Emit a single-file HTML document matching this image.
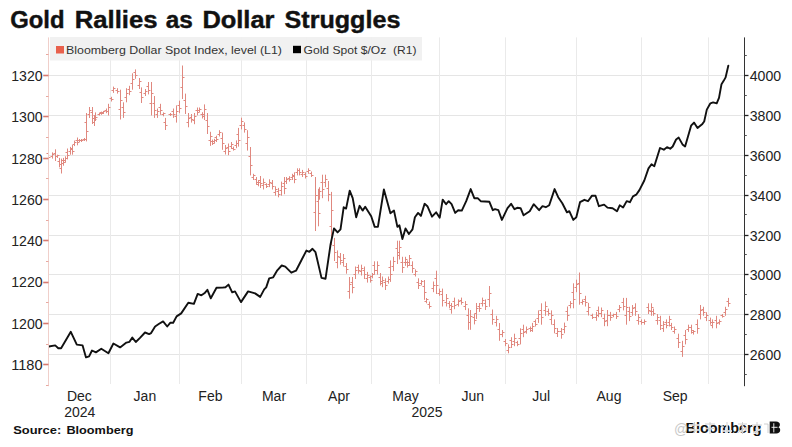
<!DOCTYPE html>
<html><head><meta charset="utf-8"><style>
html,body{margin:0;padding:0;background:#fff;}
svg{display:block;}
text{font-family:"Liberation Sans",sans-serif;}
.ax{font-size:15px;fill:#222;}
.mo{font-size:14px;fill:#222;}
.lg{font-size:11.5px;fill:#333;}
.title{font-size:23px;font-weight:bold;fill:#111;stroke:#111;stroke-width:0.4px;}
.src{font-size:11.5px;font-weight:bold;fill:#111;}
.logo{font-size:15px;font-weight:bold;fill:#111;}
.wm{font-size:14px;fill:#c8c8c8;}
</style></head><body>
<svg width="792" height="447" viewBox="0 0 792 447">
<rect width="792" height="447" fill="#fff"/>
<line x1="48.5" y1="75.5" x2="744.5" y2="75.5" stroke="#e5e5e5" stroke-width="1"/>
<line x1="48.5" y1="115.5" x2="744.5" y2="115.5" stroke="#e5e5e5" stroke-width="1"/>
<line x1="48.5" y1="155.5" x2="744.5" y2="155.5" stroke="#e5e5e5" stroke-width="1"/>
<line x1="48.5" y1="195.5" x2="744.5" y2="195.5" stroke="#e5e5e5" stroke-width="1"/>
<line x1="48.5" y1="235.5" x2="744.5" y2="235.5" stroke="#e5e5e5" stroke-width="1"/>
<line x1="48.5" y1="274.5" x2="744.5" y2="274.5" stroke="#e5e5e5" stroke-width="1"/>
<line x1="48.5" y1="314.5" x2="744.5" y2="314.5" stroke="#e5e5e5" stroke-width="1"/>
<line x1="48.5" y1="354.5" x2="744.5" y2="354.5" stroke="#e5e5e5" stroke-width="1"/>
<line x1="110.5" y1="37.4" x2="110.5" y2="384" stroke="#eaeaea" stroke-width="1"/>
<line x1="179.5" y1="37.4" x2="179.5" y2="384" stroke="#eaeaea" stroke-width="1"/>
<line x1="241.5" y1="37.4" x2="241.5" y2="384" stroke="#eaeaea" stroke-width="1"/>
<line x1="306.5" y1="37.4" x2="306.5" y2="384" stroke="#eaeaea" stroke-width="1"/>
<line x1="371.5" y1="37.4" x2="371.5" y2="384" stroke="#eaeaea" stroke-width="1"/>
<line x1="439.5" y1="37.4" x2="439.5" y2="384" stroke="#eaeaea" stroke-width="1"/>
<line x1="505.5" y1="37.4" x2="505.5" y2="384" stroke="#eaeaea" stroke-width="1"/>
<line x1="576.5" y1="37.4" x2="576.5" y2="384" stroke="#eaeaea" stroke-width="1"/>
<line x1="641.5" y1="37.4" x2="641.5" y2="384" stroke="#eaeaea" stroke-width="1"/>
<line x1="708.5" y1="37.4" x2="708.5" y2="384" stroke="#eaeaea" stroke-width="1"/>
<rect x="50" y="37" width="372" height="23.5" fill="#f0f0f0" fill-opacity="0.92"/>
<rect x="56" y="46" width="8" height="7.5" fill="#e8604c"/>
<rect x="293" y="45.8" width="8" height="7.4" fill="#000"/>
<path d="M48.5 148.5V162.6M46.5 153.5H48.5M48.5 157.5H50.5M52.5 152.4V158.6M50.5 156.5H52.5M52.5 154.5H54.5M55.5 149.3V161.0M53.5 153.5H55.5M55.5 156.5H57.5M57.5 154.7V157.9M55.5 156.5H57.5M57.5 155.5H59.5M59.5 157.9V167.3M57.5 161.5H59.5M59.5 164.5H61.5M61.5 158.6V173.5M59.5 168.5H61.5M61.5 163.5H63.5M63.5 157.9V165.7M61.5 160.5H63.5M63.5 162.5H65.5M65.5 156.3V162.6M63.5 160.5H65.5M65.5 158.5H67.5M67.5 148.5V159.4M65.5 152.5H67.5M67.5 155.5H69.5M70.5 146.9V154.7M68.5 151.5H70.5M70.5 149.5H72.5M72.5 145.0V154.7M70.5 148.5H72.5M72.5 151.5H74.5M74.5 140.6V146.1M72.5 144.5H74.5M74.5 142.5H76.5M77.5 137.5V145.3M75.5 140.5H77.5M77.5 142.5H79.5M79.5 139.0V142.0M77.5 140.5H79.5M79.5 140.5H81.5M81.5 139.0V142.0M79.5 140.5H81.5M81.5 140.5H83.5M84.5 138.0V141.0M82.5 139.5H84.5M84.5 139.5H86.5M86.5 113.0V141.4M84.5 122.5H86.5M86.5 131.5H88.5M89.5 107.0V118.0M87.5 114.5H89.5M89.5 110.5H91.5M92.5 107.0V124.0M90.5 112.5H92.5M92.5 118.5H94.5M94.5 116.0V126.0M92.5 122.5H94.5M94.5 119.5H96.5M95.5 112.4V121.0M93.5 115.5H95.5M95.5 117.5H97.5M99.5 113.0V115.5M97.5 114.5H99.5M99.5 113.5H101.5M101.5 111.6V114.8M99.5 112.5H101.5M101.5 113.5H103.5M103.5 110.9V114.0M101.5 112.5H103.5M103.5 111.5H105.5M106.5 108.5V113.2M104.5 110.5H106.5M106.5 111.5H108.5M108.5 103.8V115.5M106.5 111.5H108.5M108.5 107.5H110.5M111.5 96.8V101.5M109.5 98.5H111.5M111.5 99.5H113.5M113.5 86.6V92.9M111.5 90.5H113.5M113.5 88.5H115.5M117.5 88.2V93.6M115.5 90.5H117.5M117.5 91.5H119.5M120.5 89.7V119.5M118.5 109.5H120.5M120.5 100.5H122.5M123.5 102.3V117.9M121.5 107.5H123.5M123.5 112.5H125.5M126.5 88.2V102.3M124.5 97.5H126.5M126.5 93.5H128.5M129.5 85.8V95.2M127.5 89.5H129.5M129.5 91.5H131.5M132.5 73.3V89.7M130.5 83.5H132.5M132.5 79.5H134.5M135.5 69.4V78.8M133.5 72.5H135.5M135.5 75.5H137.5M139.5 78.0V89.0M137.5 85.5H139.5M139.5 81.5H141.5M141.5 87.4V103.0M139.5 92.5H141.5M141.5 97.5H143.5M145.5 89.0V96.0M143.5 93.5H145.5M145.5 91.5H147.5M148.5 82.0V94.4M146.5 86.5H148.5M148.5 90.5H150.5M151.5 82.0V115.5M149.5 103.5H151.5M151.5 93.5H153.5M154.5 96.0V117.9M152.5 103.5H154.5M154.5 110.5H156.5M157.5 108.5V117.9M155.5 114.5H157.5M157.5 111.5H159.5M160.5 103.8V114.8M158.5 107.5H160.5M160.5 110.5H162.5M163.5 112.4V116.3M161.5 114.5H163.5M163.5 113.5H165.5M165.5 117.9V130.0M163.5 122.5H165.5M165.5 125.5H167.5M170.5 113.0V116.0M168.5 114.5H170.5M170.5 114.5H172.5M173.5 108.5V117.9M171.5 111.5H173.5M173.5 114.5H175.5M176.5 105.4V122.6M174.5 116.5H176.5M176.5 111.5H178.5M179.5 100.7V113.2M177.5 105.5H179.5M179.5 108.5H181.5M182.5 65.5V99.0M180.5 87.5H182.5M182.5 77.5H184.5M185.5 93.6V114.0M183.5 100.5H185.5M185.5 106.5H187.5M188.5 113.0V127.3M186.5 122.5H188.5M188.5 118.5H190.5M191.5 114.0V122.6M189.5 117.5H191.5M191.5 119.5H193.5M194.5 113.0V124.2M192.5 120.5H194.5M194.5 116.5H196.5M197.5 107.5V115.3M195.5 110.5H197.5M197.5 112.5H199.5M199.5 107.5V112.2M197.5 110.5H199.5M199.5 109.5H201.5M202.5 112.2V118.5M200.5 114.5H202.5M202.5 116.5H204.5M204.5 104.4V120.0M202.5 114.5H204.5M204.5 109.5H206.5M207.5 113.0V134.0M205.5 120.5H207.5M207.5 126.5H209.5M210.5 131.8V145.9M208.5 140.5H210.5M210.5 136.5H212.5M212.5 139.6V145.0M210.5 141.5H212.5M212.5 143.5H214.5M214.5 138.8V143.5M212.5 141.5H214.5M214.5 140.5H216.5M216.5 135.7V142.0M214.5 137.5H216.5M216.5 139.5H218.5M219.5 130.2V136.5M217.5 134.5H219.5M219.5 132.5H221.5M222.5 132.6V149.8M220.5 138.5H222.5M222.5 143.5H224.5M225.5 145.0V154.5M223.5 151.5H225.5M225.5 148.5H227.5M228.5 143.5V155.2M226.5 147.5H228.5M228.5 151.5H230.5M231.5 142.0V149.0M229.5 146.5H231.5M231.5 144.5H233.5M233.5 146.6V150.6M231.5 148.5H233.5M233.5 149.5H235.5M236.5 140.4V148.2M234.5 145.5H236.5M236.5 143.5H238.5M238.5 127.9V146.6M236.5 134.5H238.5M238.5 140.5H240.5M241.5 117.7V129.4M239.5 125.5H241.5M241.5 121.5H243.5M244.5 122.4V132.6M242.5 125.5H244.5M244.5 129.5H246.5M247.5 130.2V150.6M245.5 143.5H247.5M247.5 137.5H249.5M250.5 147.0V175.4M248.5 156.5H250.5M250.5 165.5H252.5M253.5 173.8V180.0M251.5 177.5H253.5M253.5 175.5H255.5M256.5 177.0V184.8M254.5 179.5H256.5M256.5 182.5H258.5M258.5 180.0V186.3M256.5 184.5H258.5M258.5 182.5H260.5M260.5 176.0V188.0M258.5 180.5H260.5M260.5 183.5H262.5M263.5 178.5V189.5M261.5 185.5H263.5M263.5 182.5H265.5M266.5 183.2V188.0M264.5 184.5H266.5M266.5 186.5H268.5M269.5 179.3V187.1M267.5 184.5H269.5M269.5 182.5H271.5M272.5 180.0V189.5M270.5 183.5H272.5M272.5 186.5H274.5M275.5 186.3V195.7M273.5 192.5H275.5M275.5 189.5H277.5M278.5 187.9V197.3M276.5 191.5H278.5M278.5 194.5H280.5M281.5 181.6V195.7M279.5 190.5H281.5M281.5 186.5H283.5M284.5 177.0V194.2M282.5 183.5H284.5M284.5 188.5H286.5M286.5 177.0V184.0M284.5 181.5H286.5M286.5 179.5H288.5M289.5 176.2V181.6M287.5 178.5H289.5M289.5 179.5H291.5M292.5 173.8V180.0M290.5 177.5H292.5M292.5 175.5H294.5M294.5 172.3V183.2M292.5 176.5H294.5M294.5 179.5H296.5M297.5 168.3V175.4M295.5 172.5H297.5M297.5 170.5H299.5M299.5 168.3V175.4M297.5 170.5H299.5M299.5 172.5H301.5M302.5 169.9V177.0M300.5 174.5H302.5M302.5 172.5H304.5M305.5 172.3V178.5M303.5 174.5H305.5M305.5 176.5H307.5M308.5 168.3V173.8M306.5 171.5H308.5M308.5 170.5H310.5M311.5 171.5V177.0M309.5 173.5H311.5M311.5 175.5H313.5M315.5 177.0V231.0M313.5 212.5H315.5M315.5 195.5H317.5M318.5 188.8V226.3M316.5 201.5H318.5M318.5 213.5H320.5M319.5 187.2V199.7M317.5 195.5H319.5M319.5 191.5H321.5M322.5 174.7V198.2M320.5 182.5H322.5M322.5 189.5H324.5M325.5 174.7V187.2M323.5 182.5H325.5M325.5 179.5H327.5M328.5 181.0V201.3M326.5 188.5H328.5M328.5 194.5H330.5M331.5 191.9V245.0M329.5 226.5H331.5M331.5 210.5H333.5M334.5 237.9V261.0M332.5 245.5H334.5M334.5 252.5H336.5M337.5 250.4V268.3M335.5 262.5H337.5M337.5 256.5H339.5M340.5 253.0V264.7M338.5 257.5H340.5M340.5 260.5H342.5M343.5 254.0V266.5M341.5 262.5H343.5M343.5 258.5H345.5M346.5 263.0V273.7M344.5 266.5H346.5M346.5 269.5H348.5M349.5 277.0V298.7M347.5 291.5H349.5M349.5 284.5H351.5M352.5 277.0V293.3M350.5 282.5H352.5M352.5 287.5H354.5M355.5 266.5V279.0M353.5 274.5H355.5M355.5 270.5H357.5M358.5 264.7V273.7M356.5 267.5H358.5M358.5 270.5H360.5M361.5 264.7V275.5M359.5 271.5H361.5M361.5 268.5H363.5M364.5 266.5V279.0M362.5 270.5H364.5M364.5 274.5H366.5M367.5 271.9V282.6M365.5 278.5H367.5M367.5 275.5H369.5M370.5 275.5V282.6M368.5 277.5H370.5M370.5 280.5H372.5M372.5 273.0V278.3M370.5 276.5H372.5M372.5 274.5H374.5M374.5 261.3V274.7M372.5 265.5H374.5M374.5 270.5H376.5M377.5 261.3V274.7M375.5 270.5H377.5M377.5 265.5H379.5M380.5 273.0V285.5M378.5 277.5H380.5M380.5 281.5H382.5M382.5 276.5V287.2M380.5 283.5H382.5M382.5 280.5H384.5M385.5 278.3V290.0M383.5 282.5H385.5M385.5 285.5H387.5M388.5 276.5V283.7M386.5 281.5H388.5M388.5 279.5H390.5M390.5 260.4V281.9M388.5 267.5H390.5M390.5 274.5H392.5M393.5 256.8V271.1M391.5 266.5H393.5M393.5 261.5H395.5M397.5 240.7V264.0M395.5 248.5H397.5M397.5 255.5H399.5M399.5 240.7V259.5M397.5 252.5H399.5M399.5 247.5H401.5M402.5 256.8V272.9M400.5 262.5H402.5M402.5 267.5H404.5M405.5 256.8V265.8M403.5 262.5H405.5M405.5 259.5H407.5M407.5 260.4V267.6M405.5 262.5H407.5M407.5 265.5H409.5M409.5 255.0V265.8M407.5 262.5H409.5M409.5 258.5H411.5M412.5 261.3V272.9M410.5 265.5H412.5M412.5 268.5H414.5M415.5 269.4V276.5M413.5 274.5H415.5M415.5 271.5H417.5M418.5 278.3V289.0M416.5 282.5H418.5M418.5 285.5H420.5M421.5 280.0V285.4M419.5 283.5H421.5M421.5 281.5H423.5M424.5 280.0V299.8M422.5 286.5H424.5M424.5 292.5H426.5M426.5 298.0V303.3M424.5 301.5H426.5M426.5 299.5H428.5M429.5 301.6V308.7M427.5 304.5H429.5M429.5 306.5H431.5M433.5 281.5V292.2M431.5 288.5H433.5M433.5 285.5H435.5M436.5 270.7V294.0M434.5 278.5H436.5M436.5 285.5H438.5M439.5 288.6V295.8M437.5 293.5H439.5M439.5 291.5H441.5M442.5 288.6V306.5M440.5 294.5H442.5M442.5 300.5H444.5M446.5 294.0V306.5M444.5 302.5H446.5M446.5 298.5H448.5M449.5 301.1V308.3M447.5 303.5H449.5M449.5 305.5H451.5M451.5 303.0V313.7M449.5 309.5H451.5M451.5 306.5H453.5M454.5 297.6V309.2M452.5 301.5H454.5M454.5 305.5H456.5M458.5 299.4V306.5M456.5 304.5H458.5M458.5 301.5H460.5M461.5 297.6V304.7M459.5 300.5H461.5M461.5 302.5H463.5M465.5 301.1V310.1M463.5 306.5H465.5M465.5 304.5H467.5M468.5 308.3V329.8M466.5 315.5H468.5M468.5 322.5H470.5M470.5 310.0V329.8M468.5 322.5H470.5M470.5 316.5H472.5M474.5 313.7V324.4M472.5 317.5H474.5M474.5 320.5H476.5M476.5 303.0V319.0M474.5 313.5H476.5M476.5 308.5H478.5M479.5 303.0V311.9M477.5 306.5H479.5M479.5 308.5H481.5M482.5 297.6V306.5M480.5 303.5H482.5M482.5 300.5H484.5M485.5 299.4V310.0M483.5 303.5H485.5M485.5 306.5H487.5M489.5 286.0V306.8M487.5 299.5H489.5M489.5 293.5H491.5M492.5 309.5V324.7M490.5 314.5H492.5M492.5 319.5H494.5M496.5 315.8V326.5M494.5 322.5H496.5M496.5 319.5H498.5M499.5 323.0V340.8M497.5 329.5H499.5M499.5 334.5H501.5M502.5 330.0V337.2M500.5 334.5H502.5M502.5 332.5H504.5M505.5 339.0V346.2M503.5 341.5H505.5M505.5 343.5H507.5M508.5 344.4V353.3M506.5 350.5H508.5M508.5 347.5H510.5M511.5 337.2V348.0M509.5 340.5H511.5M511.5 344.5H513.5M514.5 333.7V346.2M512.5 341.5H514.5M514.5 338.5H516.5M517.5 340.8V346.2M515.5 342.5H517.5M517.5 344.5H519.5M520.5 328.3V344.4M518.5 338.5H520.5M520.5 333.5H522.5M523.5 324.7V337.2M521.5 329.5H523.5M523.5 332.5H525.5M526.5 326.5V333.7M524.5 331.5H526.5M526.5 329.5H528.5M530.5 326.5V331.9M528.5 328.5H530.5M530.5 330.5H532.5M532.5 322.9V331.9M530.5 328.5H532.5M532.5 326.5H534.5M535.5 319.4V326.5M533.5 321.5H535.5M535.5 324.5H537.5M538.5 310.4V322.9M536.5 318.5H538.5M538.5 314.5H540.5M541.5 303.3V324.7M539.5 310.5H541.5M541.5 317.5H543.5M545.5 301.5V315.8M543.5 310.5H545.5M545.5 306.5H547.5M548.5 308.6V315.8M546.5 311.5H548.5M548.5 313.5H550.5M551.5 310.4V324.7M549.5 319.5H551.5M551.5 315.5H553.5M554.5 319.4V333.3M552.5 324.5H554.5M554.5 328.5H556.5M557.5 328.0V337.0M555.5 333.5H557.5M557.5 331.5H559.5M561.5 328.0V338.7M559.5 331.5H561.5M561.5 334.5H563.5M564.5 322.6V333.3M562.5 329.5H564.5M564.5 326.5H566.5M567.5 306.5V320.8M565.5 311.5H567.5M567.5 315.5H569.5M570.5 301.1V308.3M568.5 305.5H570.5M570.5 303.5H572.5M573.5 283.3V308.3M571.5 292.5H573.5M573.5 299.5H575.5M576.5 279.7V292.2M574.5 287.5H576.5M576.5 284.5H578.5M579.5 272.5V304.7M577.5 283.5H579.5M579.5 293.5H581.5M582.5 299.4V304.7M580.5 302.5H582.5M582.5 301.5H584.5M585.5 295.8V306.5M583.5 299.5H585.5M585.5 302.5H587.5M588.5 302.9V315.5M586.5 311.5H588.5M588.5 307.5H590.5M592.5 313.7V319.0M590.5 315.5H592.5M592.5 317.5H594.5M596.5 311.9V320.8M594.5 317.5H596.5M596.5 315.5H598.5M598.5 306.5V317.2M596.5 310.5H598.5M598.5 313.5H600.5M601.5 307.5V317.2M599.5 313.5H601.5M601.5 310.5H603.5M604.5 313.7V326.2M602.5 318.5H604.5M604.5 321.5H606.5M607.5 310.0V326.2M605.5 320.5H607.5M607.5 315.5H609.5M610.5 311.9V320.8M608.5 315.5H610.5M610.5 317.5H612.5M613.5 313.7V317.2M611.5 315.5H613.5M613.5 314.5H615.5M616.5 311.9V319.0M614.5 314.5H616.5M616.5 316.5H618.5M619.5 305.0V312.2M617.5 309.5H619.5M619.5 307.5H621.5M623.5 297.9V310.4M621.5 302.5H623.5M623.5 306.5H625.5M626.5 297.9V324.7M624.5 315.5H626.5M626.5 307.5H628.5M629.5 306.8V321.1M627.5 311.5H629.5M629.5 316.5H631.5M632.5 305.0V315.8M630.5 312.5H632.5M632.5 308.5H634.5M635.5 303.3V315.8M633.5 307.5H635.5M635.5 311.5H637.5M638.5 314.0V324.7M636.5 320.5H638.5M638.5 317.5H640.5M641.5 319.4V324.7M639.5 321.5H641.5M641.5 322.5H643.5M644.5 319.4V324.7M642.5 322.5H644.5M644.5 321.5H646.5M648.5 303.3V314.0M646.5 307.5H648.5M648.5 310.5H650.5M651.5 303.3V315.8M649.5 311.5H651.5M651.5 307.5H653.5M653.5 308.6V315.8M651.5 311.5H653.5M653.5 313.5H655.5M657.5 314.0V324.7M655.5 320.5H657.5M657.5 317.5H659.5M660.5 315.8V330.0M658.5 320.5H660.5M660.5 325.5H662.5M663.5 321.1V331.9M661.5 328.5H663.5M663.5 324.5H665.5M666.5 319.4V328.3M664.5 322.5H666.5M666.5 325.5H668.5M669.5 315.8V326.5M667.5 322.5H669.5M669.5 319.5H671.5M671.5 322.9V330.0M669.5 325.5H671.5M671.5 327.5H673.5M674.5 326.5V333.7M672.5 331.5H674.5M674.5 329.5H676.5M678.5 333.7V348.0M676.5 338.5H678.5M678.5 342.5H680.5M682.5 340.8V356.9M680.5 351.5H682.5M682.5 346.5H684.5M685.5 330.0V344.4M683.5 335.5H685.5M685.5 339.5H687.5M688.5 324.7V331.9M686.5 329.5H688.5M688.5 327.5H690.5M691.5 324.7V333.7M689.5 327.5H691.5M691.5 330.5H693.5M693.5 330.0V334.6M691.5 332.5H693.5M693.5 331.5H695.5M697.5 319.4V333.7M695.5 324.5H697.5M697.5 328.5H699.5M700.5 305.0V319.4M698.5 314.5H700.5M700.5 310.5H702.5M703.5 306.8V315.8M701.5 309.5H703.5M703.5 312.5H705.5M706.5 312.2V321.1M704.5 317.5H706.5M706.5 315.5H708.5M710.5 317.6V324.7M708.5 320.5H710.5M710.5 322.5H712.5M712.5 319.4V328.3M710.5 325.5H712.5M712.5 322.5H714.5M716.5 315.8V328.3M714.5 320.5H716.5M716.5 323.5H718.5M719.5 319.4V324.7M717.5 322.5H719.5M719.5 321.5H721.5M722.5 314.0V317.6M720.5 315.5H722.5M722.5 316.5H724.5M725.5 306.8V315.8M723.5 312.5H725.5M725.5 309.5H727.5M728.5 297.9V306.8M726.5 301.5H728.5M728.5 303.5H730.5" stroke="#e0887f" stroke-width="1" fill="none"/>
<polyline points="48.9,346.5 55.2,345.4 58.3,348.2 61.1,348.2 70.8,331.8 76.8,344.6 82.6,345.4 86.0,357.4 89.1,356.3 92.0,350.5 95.9,352.4 101.3,348.8 108.4,353.2 113.4,343.5 120.1,347.4 126.4,342.6 129.5,341.8 132.3,337.6 135.8,342.0 140.0,337.9 145.0,332.5 149.1,334.1 151.1,333.1 155.1,326.5 159.1,323.8 163.1,321.4 167.2,326.5 170.2,322.8 173.2,322.8 176.6,316.4 181.2,313.4 188.3,302.7 193.9,303.9 197.7,293.9 201.4,295.3 204.4,293.3 207.4,289.8 210.8,298.3 216.5,287.8 222.5,287.6 225.5,287.2 228.5,284.6 232.2,292.3 235.0,291.4 241.0,302.1 248.1,291.4 255.1,293.4 260.2,296.9 264.2,289.4 266.2,287.4 269.2,278.4 273.2,277.3 277.3,270.3 281.7,265.5 285.3,266.7 291.3,272.7 296.0,270.7 301.4,260.2 306.4,250.6 309.4,251.8 312.5,248.8 315.5,252.2 321.5,277.9 325.5,278.8 330.6,244.1 334.0,228.4 337.6,232.4 340.5,229.4 343.7,207.2 346.1,208.6 349.7,190.7 352.7,198.2 356.2,217.3 359.6,205.8 362.6,210.6 365.2,206.8 371.2,216.3 374.7,226.9 377.9,226.9 383.9,189.5 390.4,213.3 394.0,210.6 397.4,226.9 399.4,225.3 402.4,239.0 405.5,228.4 408.9,234.0 412.5,229.4 414.9,217.3 418.1,212.9 420.9,215.9 424.6,203.8 427.4,206.2 432.0,216.7 436.1,212.3 439.7,217.7 442.7,199.6 446.1,204.2 448.7,201.2 451.6,204.2 455.2,212.9 458.2,210.2 461.8,210.6 466.2,201.2 470.7,189.1 474.3,198.2 477.7,198.2 480.7,201.2 489.4,201.8 492.8,210.2 495.0,209.2 498.4,210.2 501.9,219.9 507.5,208.2 511.1,203.8 514.5,209.2 517.2,207.8 520.6,208.2 523.6,215.3 529.7,211.2 533.7,204.2 539.1,210.2 542.5,206.2 545.8,207.2 549.2,205.2 554.6,189.1 558.2,197.2 562.3,203.2 566.9,212.3 569.3,211.2 573.3,219.9 576.3,217.3 580.0,202.2 584.4,199.8 588.0,201.2 592.0,195.6 595.5,195.8 598.9,206.2 604.1,204.6 607.5,207.6 612.6,208.2 617.0,211.3 619.7,205.3 623.1,207.5 626.7,201.1 629.9,202.2 633.0,196.4 636.2,194.7 639.4,190.1 644.3,180.5 648.5,168.4 651.5,164.2 654.3,166.3 660.0,148.0 663.8,149.7 667.0,147.2 670.2,148.7 672.7,146.5 676.1,139.5 678.7,137.6 682.5,144.4 685.1,146.5 691.1,125.7 694.0,122.6 697.5,128.0 702.4,123.9 704.2,121.5 706.8,109.6 710.4,103.3 713.1,102.4 716.7,103.3 719.0,97.9 721.5,84.2 723.8,80.6 725.6,77.4 728.3,65.7" fill="none" stroke="#111" stroke-width="1.9" stroke-linejoin="round" stroke-linecap="round"/>
<line x1="48.5" y1="37.4" x2="48.5" y2="386.2" stroke="#f0cfca" stroke-width="1"/>
<line x1="744.5" y1="37.4" x2="744.5" y2="386.2" stroke="#333" stroke-width="1"/>
<line x1="43.2" y1="75.5" x2="48.5" y2="75.5" stroke="#d87a70" stroke-width="1.6"/>
<line x1="43.2" y1="116.5" x2="48.5" y2="116.5" stroke="#d87a70" stroke-width="1.6"/>
<line x1="43.2" y1="158.5" x2="48.5" y2="158.5" stroke="#d87a70" stroke-width="1.6"/>
<line x1="43.2" y1="199.5" x2="48.5" y2="199.5" stroke="#d87a70" stroke-width="1.6"/>
<line x1="43.2" y1="240.5" x2="48.5" y2="240.5" stroke="#d87a70" stroke-width="1.6"/>
<line x1="43.2" y1="282.5" x2="48.5" y2="282.5" stroke="#d87a70" stroke-width="1.6"/>
<line x1="43.2" y1="323.5" x2="48.5" y2="323.5" stroke="#d87a70" stroke-width="1.6"/>
<line x1="43.2" y1="364.5" x2="48.5" y2="364.5" stroke="#d87a70" stroke-width="1.6"/>
<line x1="46" y1="54.5" x2="48.5" y2="54.5" stroke="#e8a8a0" stroke-width="1"/>
<line x1="46" y1="96.5" x2="48.5" y2="96.5" stroke="#e8a8a0" stroke-width="1"/>
<line x1="46" y1="137.5" x2="48.5" y2="137.5" stroke="#e8a8a0" stroke-width="1"/>
<line x1="46" y1="178.5" x2="48.5" y2="178.5" stroke="#e8a8a0" stroke-width="1"/>
<line x1="46" y1="220.5" x2="48.5" y2="220.5" stroke="#e8a8a0" stroke-width="1"/>
<line x1="46" y1="261.5" x2="48.5" y2="261.5" stroke="#e8a8a0" stroke-width="1"/>
<line x1="46" y1="302.5" x2="48.5" y2="302.5" stroke="#e8a8a0" stroke-width="1"/>
<line x1="46" y1="344.5" x2="48.5" y2="344.5" stroke="#e8a8a0" stroke-width="1"/>
<line x1="46" y1="385.5" x2="48.5" y2="385.5" stroke="#e8a8a0" stroke-width="1"/>
<line x1="744.5" y1="75.5" x2="748.5" y2="75.5" stroke="#222" stroke-width="1.3"/>
<line x1="744.5" y1="115.5" x2="748.5" y2="115.5" stroke="#222" stroke-width="1.3"/>
<line x1="744.5" y1="155.5" x2="748.5" y2="155.5" stroke="#222" stroke-width="1.3"/>
<line x1="744.5" y1="195.5" x2="748.5" y2="195.5" stroke="#222" stroke-width="1.3"/>
<line x1="744.5" y1="235.5" x2="748.5" y2="235.5" stroke="#222" stroke-width="1.3"/>
<line x1="744.5" y1="274.5" x2="748.5" y2="274.5" stroke="#222" stroke-width="1.3"/>
<line x1="744.5" y1="314.5" x2="748.5" y2="314.5" stroke="#222" stroke-width="1.3"/>
<line x1="744.5" y1="354.5" x2="748.5" y2="354.5" stroke="#222" stroke-width="1.3"/>
<line x1="744.5" y1="55.5" x2="746.8" y2="55.5" stroke="#555" stroke-width="1"/>
<line x1="744.5" y1="95.5" x2="746.8" y2="95.5" stroke="#555" stroke-width="1"/>
<line x1="744.5" y1="135.5" x2="746.8" y2="135.5" stroke="#555" stroke-width="1"/>
<line x1="744.5" y1="175.5" x2="746.8" y2="175.5" stroke="#555" stroke-width="1"/>
<line x1="744.5" y1="214.5" x2="746.8" y2="214.5" stroke="#555" stroke-width="1"/>
<line x1="744.5" y1="254.5" x2="746.8" y2="254.5" stroke="#555" stroke-width="1"/>
<line x1="744.5" y1="294.5" x2="746.8" y2="294.5" stroke="#555" stroke-width="1"/>
<line x1="744.5" y1="334.5" x2="746.8" y2="334.5" stroke="#555" stroke-width="1"/>
<line x1="744.5" y1="374.5" x2="746.8" y2="374.5" stroke="#555" stroke-width="1"/>
<text x="685.5" y="432.6" class="logo" textLength="76" lengthAdjust="spacingAndGlyphs">Bloomberg</text>
<text x="674" y="433.5" class="wm">@</text>
<g fill="none" stroke="#fff" stroke-width="1.6"><path d="M689 425h11M694.5 422v11M690 430h9M705 424h10M710 422v12M706 428.5h8M721 425l2.5 2.5M727 422v11M722 431h10M738 424h9M742.5 422v12M738 432.5l9-5M752 425h10M757 422v12M753 433l8-4M764 424h4v9"/></g>
<g fill="none" stroke="#c4c4c4" stroke-width="0.8"><path d="M689 425h11M694.5 422v11M690 430h9M705 424h10M710 422v12M706 428.5h8M721 425l2.5 2.5M727 422v11M722 431h10M738 424h9M742.5 422v12M738 432.5l9-5M752 425h10M757 422v12M753 433l8-4M764 424h4v9"/></g>
<path d="M769.7 421.6h6.3c2.5 0 3.9 1.3 3.9 3.1 0 1.1-.6 2-1.5 2.5 1.1.4 1.8 1.4 1.8 2.7 0 2-1.5 3.6-4 3.6h-6.5z" fill="#111"/>
<path d="M773.8 423.2v9.2M771.5 427.3h6" stroke="#fff" stroke-width="0.9"/>
<text x="11.2" y="80.8" class="ax" textLength="31.4" lengthAdjust="spacingAndGlyphs">1320</text>
<text x="11.2" y="122.1" class="ax" textLength="31.4" lengthAdjust="spacingAndGlyphs">1300</text>
<text x="11.2" y="163.5" class="ax" textLength="31.4" lengthAdjust="spacingAndGlyphs">1280</text>
<text x="11.2" y="204.8" class="ax" textLength="31.4" lengthAdjust="spacingAndGlyphs">1260</text>
<text x="11.2" y="246.1" class="ax" textLength="31.4" lengthAdjust="spacingAndGlyphs">1240</text>
<text x="11.2" y="287.4" class="ax" textLength="31.4" lengthAdjust="spacingAndGlyphs">1220</text>
<text x="11.2" y="328.8" class="ax" textLength="31.4" lengthAdjust="spacingAndGlyphs">1200</text>
<text x="11.2" y="370.1" class="ax" textLength="31.4" lengthAdjust="spacingAndGlyphs">1180</text>
<text x="749.7" y="80.6" class="ax" textLength="31.4" lengthAdjust="spacingAndGlyphs">4000</text>
<text x="749.7" y="120.6" class="ax" textLength="31.4" lengthAdjust="spacingAndGlyphs">3800</text>
<text x="749.7" y="160.6" class="ax" textLength="31.4" lengthAdjust="spacingAndGlyphs">3600</text>
<text x="749.7" y="200.6" class="ax" textLength="31.4" lengthAdjust="spacingAndGlyphs">3400</text>
<text x="749.7" y="240.6" class="ax" textLength="31.4" lengthAdjust="spacingAndGlyphs">3200</text>
<text x="749.7" y="279.6" class="ax" textLength="31.4" lengthAdjust="spacingAndGlyphs">3000</text>
<text x="749.7" y="319.6" class="ax" textLength="31.4" lengthAdjust="spacingAndGlyphs">2800</text>
<text x="749.7" y="359.6" class="ax" textLength="31.4" lengthAdjust="spacingAndGlyphs">2600</text>
<text x="79.4" y="400.7" text-anchor="middle" class="mo">Dec</text>
<text x="144.9" y="400.7" text-anchor="middle" class="mo">Jan</text>
<text x="210.4" y="400.7" text-anchor="middle" class="mo">Feb</text>
<text x="274" y="400.7" text-anchor="middle" class="mo">Mar</text>
<text x="339" y="400.7" text-anchor="middle" class="mo">Apr</text>
<text x="405.5" y="400.7" text-anchor="middle" class="mo">May</text>
<text x="472.7" y="400.7" text-anchor="middle" class="mo">Jun</text>
<text x="541.2" y="400.7" text-anchor="middle" class="mo">Jul</text>
<text x="609" y="400.7" text-anchor="middle" class="mo">Aug</text>
<text x="675.2" y="400.7" text-anchor="middle" class="mo">Sep</text>
<text x="79.8" y="416.7" text-anchor="middle" class="mo">2024</text>
<text x="427" y="416.7" text-anchor="middle" class="mo">2025</text>
<text x="66" y="53.6" class="lg" textLength="216" lengthAdjust="spacingAndGlyphs">Bloomberg Dollar Spot Index, level (L1)</text>
<text x="303.5" y="53.6" class="lg" textLength="113" lengthAdjust="spacingAndGlyphs">Gold Spot $/Oz&#160; (R1)</text>
<text x="10.2" y="27.6" class="title" textLength="54.3" lengthAdjust="spacingAndGlyphs">Gold</text>
<text x="74.7" y="27.6" class="title" textLength="82.8" lengthAdjust="spacingAndGlyphs">Rallies</text>
<text x="165.7" y="27.6" class="title" textLength="27.1" lengthAdjust="spacingAndGlyphs">as</text>
<text x="202.4" y="27.6" class="title" textLength="72.1" lengthAdjust="spacingAndGlyphs">Dollar</text>
<text x="284.5" y="27.6" class="title" textLength="115.9" lengthAdjust="spacingAndGlyphs">Struggles</text>
<text x="13.2" y="433.6" class="src" textLength="48" lengthAdjust="spacingAndGlyphs">Source:</text>
<text x="66.4" y="433.6" class="src" textLength="67" lengthAdjust="spacingAndGlyphs">Bloomberg</text>
</svg>
</body></html>
